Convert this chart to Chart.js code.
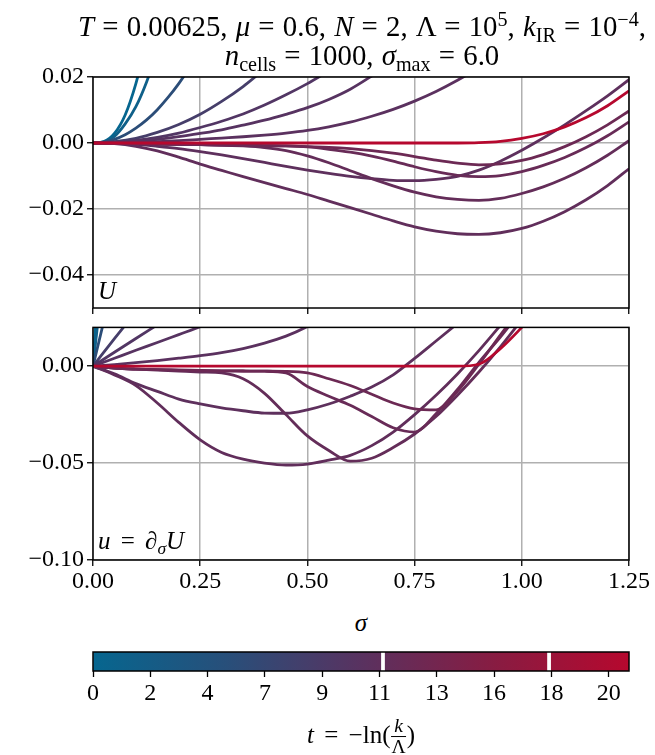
<!DOCTYPE html>
<html><head><meta charset="utf-8">
<script src="https://cdn.jsdelivr.net/npm/chart.js@4.4.0/dist/chart.umd.min.js"></script>
<style>
html,body{margin:0;padding:0;background:#fff;}
#wrap{position:relative;width:655px;height:755px;overflow:hidden;font-family:'Liberation Serif',serif;color:#000;}
canvas{position:absolute;left:0;}
.txt{position:absolute;white-space:nowrap;font-size:24px;line-height:1;}
.ttl{font-size:28.8px;word-spacing:1px;}
.c{transform:translate(-50%,-50%);}
.l{transform:translate(0,-50%);}
i{font-style:italic;}
sub,sup{font-size:0.7em;line-height:0;position:relative;vertical-align:baseline;}
sup{top:-0.5em;} sub{top:0.3em;}
.frac{display:inline-block;vertical-align:middle;font-size:0.78em;text-align:center;line-height:1.05;margin:0 1px;}
.frac .n{display:block;border-bottom:1px solid #000;padding:0 2px;}
.frac .d{display:block;}
</style></head><body><div id="wrap">
<canvas id="cU" width="655" height="330" style="top:0"></canvas>
<canvas id="cu" width="655" height="290" style="top:310px"></canvas>
<canvas id="cb" width="655" height="80" style="top:640px"></canvas>
<div class="txt ttl c" style="left:362px;top:26px"><i>T</i> = 0.00625, <i>μ</i> = 0.6, <i>N</i> = 2, Λ = 10<sup>5</sup>, <i>k</i><sub>IR</sub> = 10<sup>−4</sup>,</div>
<div class="txt ttl c" style="left:362px;top:55px"><i>n</i><sub>cells</sub> = 1000, <i>σ</i><sub>max</sub> = 6.0</div>
<div class="txt l" style="left:98px;top:290px;font-size:25px"><i>U</i></div>
<div class="txt l" style="left:98px;top:540px;font-size:25px;word-spacing:4px"><i>u</i> = ∂<sub><i>σ</i></sub><i>U</i></div>
<div class="txt c" style="left:361px;top:622px;font-size:25px"><i>σ</i></div>
<div class="txt c" style="left:361px;top:737px;font-size:25px;word-spacing:4px"><i>t</i> = −ln(<span class="frac"><span class="n"><i>k</i></span><span class="d">Λ</span></span>)</div>
</div>
<script>
// ---------------- data ----------------
const sigma = [0,0.05,0.1,0.15,0.2,0.25,0.3,0.35,0.4,0.45,0.5,0.55,0.6,0.65,0.7,0.75,0.8,0.85,0.9,0.95,1.0,1.05,1.1,1.15,1.2,1.25];
const sigmaFine = [0,0.025,0.05,0.075,0.1,0.125,0.15,0.175,0.2,0.225,0.25];

// RG time of each curve (colour), in plotting order
const tValues = [0.0, 1.4, 5.5, 8.3, 9.6, 10.2, 10.6, 10.9, 11.2, 11.6, 12.0, 12.4, 20.72];

// Potential U(sigma)
const U1 = [0, 0.0004, 0.0029, 0.0085, 0.0180, 0.0310];                       // fine grid
const U2 = [0, 0.0003, 0.0020, 0.0058, 0.0110, 0.0185, 0.0280];               // fine grid
const U3 = [0, 0.0003, 0.0011, 0.0025, 0.0045, 0.0070, 0.0101, 0.0138, 0.0180, 0.0228, 0.0280]; // fine grid
const U4 = [0, 0.0004, 0.0014, 0.0032, 0.0056, 0.0087, 0.0126, 0.0171, 0.0224];
const U5 = [0, 0.0002, 0.0008, 0.0017, 0.0030, 0.0047, 0.0066, 0.0088, 0.0115, 0.0146, 0.0180, 0.0218];
const U6 = [0, 0.0001, 0.0005, 0.0011, 0.0019, 0.0029, 0.0040, 0.0054, 0.0069, 0.0087, 0.0107, 0.0132, 0.0163, 0.0203, 0.0247];
const U7 = [0, 0.0001, 0.0002, 0.0004, 0.0007, 0.0011, 0.0015, 0.0019, 0.0024, 0.0030, 0.0038, 0.0049, 0.0063, 0.0081, 0.0102, 0.0127, 0.0156, 0.0190, 0.0228];
const U8 = [0, -0.0001, -0.0004, -0.0010, -0.0017, -0.0026, -0.0036, -0.0047, -0.0059, -0.0071, -0.0082, -0.0092, -0.0101, -0.0108, -0.0113, -0.0114, -0.0110, -0.0101, -0.0082, -0.0055, -0.0022, 0.0015, 0.0055, 0.0098, 0.0143, 0.0192];
const U9 = [0, -0.0002, -0.0010, -0.0024, -0.0043, -0.0064, -0.0083, -0.0102, -0.0120, -0.0138, -0.0156, -0.0176, -0.0196, -0.0216, -0.0236, -0.0254, -0.0267, -0.0275, -0.0277, -0.0272, -0.0259, -0.0237, -0.0208, -0.0172, -0.0129, -0.0078];
const U10 = [0, -0.0001, -0.0002, -0.0003, -0.0004, -0.0005, -0.0006, -0.0009, -0.0014, -0.0023, -0.0039, -0.0060, -0.0084, -0.0108, -0.0130, -0.0149, -0.0163, -0.0171, -0.0174, -0.0168, -0.0153, -0.0133, -0.0107, -0.0075, -0.0037, 0.0007];
const U11 = [0, -0.0001, -0.0002, -0.0003, -0.0004, -0.0005, -0.0006, -0.0007, -0.0008, -0.0009, -0.0012, -0.0019, -0.0028, -0.0040, -0.0055, -0.0072, -0.0087, -0.0098, -0.0102, -0.0099, -0.0087, -0.0068, -0.0044, -0.0014, 0.0022, 0.0064];
const U12 = [0, -0.0001, -0.0002, -0.0003, -0.0004, -0.0005, -0.0006, -0.0007, -0.0008, -0.0009, -0.0011, -0.0013, -0.0017, -0.0023, -0.0031, -0.0041, -0.0052, -0.0061, -0.0066, -0.0063, -0.0053, -0.0035, -0.0011, 0.0019, 0.0055, 0.0097];
const U13 = [0, 0, 0, 0, 0, 0, 0, 0, 0, 0, 0, 0, 0, 0, 0, 0, 0, 0, 0.0001, 0.0005, 0.0014, 0.0028, 0.0049, 0.0077, 0.0113, 0.0158];

// Derivative u = dU/dsigma
const u1 = [0, 0.090];                 // fine grid
const u2 = [0, 0.050];                 // fine grid
const u3 = [0, 0.023, 0.046];          // fine grid
const u4 = [0, 0.0142, 0.0280];
const u5 = [0, 0.0072, 0.0143, 0.0213];
const u6 = [0, 0.0041, 0.0082, 0.0122, 0.0163, 0.0204, 0.0250];
const u7 = [0, 0.0008, 0.0018, 0.0029, 0.0041, 0.0054, 0.0070, 0.0091, 0.0119, 0.0155, 0.0205, 0.0270];
const u8 = [0, -0.0040, -0.0090, -0.0130, -0.0170, -0.0195, -0.0215, -0.0230, -0.0242, -0.0243, -0.0225, -0.0195, -0.0155, -0.0108, -0.0045, 0.0040, 0.0130, 0.0220];
const u9 = [0, -0.0045, -0.0100, -0.0190, -0.0290, -0.0380, -0.0445, -0.0480, -0.0500, -0.0510, -0.0505, -0.0485, -0.0460, -0.0410, -0.0340, -0.0250, -0.0150, -0.0040, 0.0080, 0.0210];
const u10 = [0, -0.0010, -0.0015, -0.0020, -0.0025, -0.0030, -0.0035, -0.0065, -0.0140, -0.0250, -0.0360, -0.0435, -0.0490, -0.0475, -0.0420, -0.0350, -0.0260, -0.0150, -0.0030, 0.0100, 0.0240];
const u11 = [0, -0.0010, -0.0015, -0.0018, -0.0020, -0.0022, -0.0024, -0.0025, -0.0026, -0.0035, -0.0105, -0.0155, -0.0202, -0.0260, -0.0318, -0.0340, -0.0245, -0.0120, 0.0020, 0.0150, 0.0290];
const u12 = [0, -0.0010, -0.0015, -0.0018, -0.0020, -0.0022, -0.0024, -0.0025, -0.0026, -0.0027, -0.0035, -0.0065, -0.0100, -0.0145, -0.0190, -0.0220, -0.0225, -0.0130, 0.0010, 0.0160, 0.0310];
const u13 = [0, 0, 0, 0, 0, 0, 0, 0, 0, 0, 0, 0, 0, 0, 0, 0, 0, 0, 0.0010, 0.0090, 0.0200, 0.0320];

// Axis ticks
const sigmaTicks = [0, 0.25, 0.5, 0.75, 1.0, 1.25];
const sigmaTickLabels = ['0.00', '0.25', '0.50', '0.75', '1.00', '1.25'];
const UTicks = [-0.04, -0.02, 0, 0.02];
const UTickLabels = ['−0.04', '−0.02', '0.00', '0.02'];
const uTicks = [-0.10, -0.05, 0];
const uTickLabels = ['−0.10', '−0.05', '0.00'];
const tMax = 20.72;
const cbarTicks = [0, 2.215, 4.43, 6.645, 8.86, 11.075, 13.29, 15.505, 17.72, 19.935];
const cbarTickLabels = ['0', '2', '4', '7', '9', '11', '13', '16', '18', '20'];
const cbarMarks = [11.21, 17.63];

// ---------------- style ----------------
const cmapStops = [[0, [6, 102, 143]], [0.25, [40, 79, 122]], [0.5, [89, 50, 96]], [0.75, [136, 28, 66]], [1, [182, 8, 46]]];
function colorAt(t) {
  const p = Math.max(0, Math.min(1, t / tMax));
  for (let i = 1; i < cmapStops.length; i++) {
    const [p1, c1] = cmapStops[i - 1], [p2, c2] = cmapStops[i];
    if (p <= p2) {
      const f = (p - p1) / (p2 - p1);
      return 'rgb(' + c1.map((v, k) => Math.round(v + f * (c2[k] - v))).join(',') + ')';
    }
  }
  return 'rgb(' + cmapStops[cmapStops.length - 1][1].join(',') + ')';
}

const Ulist = [U1, U2, U3, U4, U5, U6, U7, U8, U9, U10, U11, U12, U13];
const ulist = [u1, u2, u3, u4, u5, u6, u7, u8, u9, u10, u11, u12, u13];
const gridOf = [sigmaFine, sigmaFine, sigmaFine];
function makeDatasets(list) {
  const n = list.length;
  return list.map((arr, i) => {
    const xs = gridOf[i] || sigma;
    return {
      data: arr.map((v, k) => ({x: xs[k], y: v})),
      borderColor: colorAt(tValues[i]),
      borderWidth: 2.8,
      pointRadius: 0,
      fill: false,
      cubicInterpolationMode: 'monotone',
      clip: 0,
      order: n - i
    };
  });
}

Chart.defaults.font.family = "'Liberation Serif', serif";
Chart.defaults.font.size = 24;
Chart.defaults.color = '#000';

const framePlugin = {
  id: 'frame',
  afterDatasetsDraw(chart) {
    const a = chart.chartArea, ctx = chart.ctx;
    ctx.save();
    ctx.strokeStyle = '#000';
    ctx.lineWidth = 1.5;
    ctx.strokeRect(a.left, a.top, a.right - a.left, a.bottom - a.top);
    ctx.restore();
  }
};

function fixedTicks(vals) {
  return function (scale) { scale.ticks = vals.map(v => ({value: v})); };
}

function lineOptions(yMin, yMax, yTicks, yLabels, showX, xHeight, padTop) {
  return {
    responsive: false,
    animation: false,
    devicePixelRatio: 1,
    layout: {padding: {left: 0, right: 26, top: padTop, bottom: 0}},
    plugins: {legend: {display: false}, tooltip: {enabled: false}},
    scales: {
      x: {
        type: 'linear', min: 0, max: 1.25,
        afterBuildTicks: fixedTicks(sigmaTicks),
        afterFit(s) { s.height = xHeight; },
        grid: {color: '#b0b0b0', lineWidth: 1.5, tickColor: '#000', tickLength: 6, tickWidth: 1.3},
        border: {display: false},
        ticks: {display: showX, padding: 1, maxRotation: 0, autoSkip: false,
                callback: (v, i) => sigmaTickLabels[i]}
      },
      y: {
        type: 'linear', min: yMin, max: yMax,
        afterBuildTicks: fixedTicks(yTicks),
        afterFit(s) { s.width = 93; },
        grid: {color: '#b0b0b0', lineWidth: 1.5, tickColor: '#000', tickLength: 6, tickWidth: 1.3},
        border: {display: false},
        ticks: {padding: 3, autoSkip: false, callback: (v, i) => yLabels[i]}
      }
    }
  };
}

new Chart(document.getElementById('cU'), {
  type: 'line',
  data: {datasets: makeDatasets(Ulist)},
  options: lineOptions(-0.05, 0.02, UTicks, UTickLabels, false, 22, 77),
  plugins: [framePlugin]
});

new Chart(document.getElementById('cu'), {
  type: 'line',
  data: {datasets: makeDatasets(ulist)},
  options: lineOptions(-0.10, 0.02, uTicks, uTickLabels, true, 40, 15),
  plugins: [framePlugin]
});

// ---------------- colour bar ----------------
const cbDatasets = [{
  data: [[0, tMax]],
  backgroundColor: (c) => {
    const ch = c.chart;
    if (!ch.chartArea) return 'rgba(0,0,0,0)';
    const xs = ch.scales.x;
    const g = ch.ctx.createLinearGradient(xs.getPixelForValue(0), 0, xs.getPixelForValue(tMax), 0);
    cmapStops.forEach(([p, rgb]) => g.addColorStop(p, 'rgb(' + rgb.join(',') + ')'));
    return g;
  },
  borderWidth: 0, grouped: false, barPercentage: 1, categoryPercentage: 1, order: 2
}].concat(cbarMarks.map(m => ({
  data: [[m - 0.06, m + 0.06]],
  backgroundColor: '#ffffff',
  borderWidth: 0, grouped: false, barPercentage: 1, categoryPercentage: 1, order: 1
})));

new Chart(document.getElementById('cb'), {
  type: 'bar',
  data: {labels: [''], datasets: cbDatasets},
  options: {
    indexAxis: 'y',
    responsive: false,
    animation: false,
    devicePixelRatio: 1,
    layout: {padding: {left: 93, right: 26, top: 12, bottom: 0}},
    plugins: {legend: {display: false}, tooltip: {enabled: false}},
    scales: {
      y: {display: false},
      x: {
        type: 'linear', min: 0, max: tMax,
        afterBuildTicks: fixedTicks(cbarTicks),
        afterFit(s) { s.height = 49; },
        grid: {drawOnChartArea: false, drawTicks: true, tickColor: '#000', tickLength: 6, tickWidth: 1.3},
        border: {display: false},
        ticks: {padding: 2, maxRotation: 0, autoSkip: false, callback: (v, i) => cbarTickLabels[i]}
      }
    }
  },
  plugins: [framePlugin]
});
</script>
</body></html>
